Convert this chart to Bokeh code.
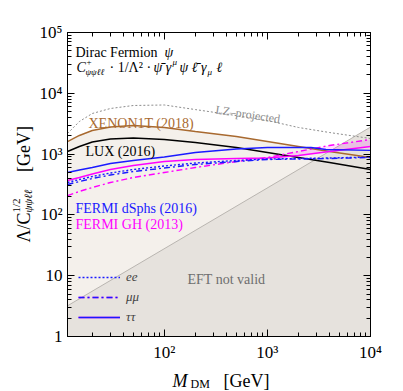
import math
from bokeh.plotting import figure
from bokeh.models import (Label, Legend, LegendItem, LogAxis, FixedTicker,
                          CustomJSTickFormatter)
from bokeh.embed import file_html
from bokeh.resources import INLINE

# ---------------- data ----------------
m_dm = [11.5, 15, 20, 30, 50, 100, 200, 500, 1000, 2000, 4000, 10000]
lz_projected = [2183, 3436, 4655, 5623, 6300, 6425, 5400, 4300, 3570, 2740, 2265, 1805]
xenon1t = [1611, 2023, 2443, 2791, 2953, 2740, 2354, 1946, 1611, 1334, 1104, 879]
lux = [1104, 1334, 1581, 1771, 1841, 1738, 1552, 1284, 1062, 879, 728, 558]
gh_tautau = [368, 412, 471, 558, 649, 755, 815, 847, 863, 948, 1104, 1334]
gh_mumu = [208, 243, 282, 341, 412, 498, 602, 755, 879, 1104, 1384, 1738]
dsph_mumu = [316, 354, 397, 453, 517, 590, 674, 755, 815, 830, 847, 879]
dsph_ee = [341, 382, 428, 489, 558, 637, 714, 785, 830, 847, 863, 896]
m_dsph_tt = [11.5, 15, 20, 30, 50, 100, 200, 500, 1000, 2000, 2650, 3700, 10000]
dsph_tautau = [498, 547, 602, 700, 785, 896, 1062, 1213, 1284, 1284, 1284, 1190, 1150]
eft_m = [11.5, 10000]
eft_lambda = [3.2, 2780]
floor_lambda = 1

x_major = [100, 1000, 10000]
y_major = [1, 10, 100, 1000, 10000, 100000]

XMIN, XMAX, YMIN, YMAX = 11.5, 1e4, 1, 1e5

# ---------------- layout (canvas px) ----------------
FL, FT, FW, FH = 67, 32, 303, 304
W, H = 403, 391

XL = math.log10(XMIN)
PX_DEC_X = FW / (math.log10(XMAX) - XL)
PX_DEC_Y = FH / 5.0


def X(px):
    return 10 ** (XL + (px - FL) / PX_DEC_X)


def Y(py):
    return 10 ** ((FT + FH - py) / PX_DEC_Y)


SERIF = "Liberation Serif"
BLUE = "#1a1aff"
MAGENTA = "#ff00ff"
BROWN = "#a8692f"

p = figure(x_axis_type="log", y_axis_type="log",
           x_range=(XMIN, XMAX), y_range=(YMIN, YMAX),
           width=W, height=H, output_backend="svg", toolbar_location=None,
           min_border_left=FL, min_border_right=W - FL - FW, min_border_top=FT,
           min_border_bottom=H - FT - FH)
p.grid.visible = False
p.outline_line_color = "black"
p.outline_line_width = 1
p.background_fill_color = "white"

# fills
p.varea(x=m_dm, y1=[floor_lambda] * len(m_dm), y2=xenon1t, fill_color="#f4f0eb")
p.varea(x=eft_m, y1=[floor_lambda] * len(eft_m), y2=eft_lambda, fill_color="#e6e2dd")
p.line(eft_m, eft_lambda, line_color="#b9b5b0", line_width=1)

i0 = m_dm.index(1000)
p.varea(x=m_dm[i0:], y1=gh_tautau[i0:], y2=gh_mumu[i0:], fill_color=MAGENTA, fill_alpha=0.15)

# curves
p.line(m_dm, lz_projected, line_color="#8c8c8c", line_width=1, line_dash="2 2")
p.line(m_dm, xenon1t, line_color=BROWN, line_width=1.4)
p.line(m_dm, lux, line_color="black", line_width=1.4)
r_gh_mm = p.line(m_dm, gh_mumu, line_color=MAGENTA, line_width=1.4, line_dash="6 3 2 3")
r_gh_tt = p.line(m_dm, gh_tautau, line_color=MAGENTA, line_width=1.4)
r_ds_ee = p.line(m_dm, dsph_ee, line_color=BLUE, line_width=1.4, line_dash="2 2")
r_ds_mm = p.line(m_dm, dsph_mumu, line_color=BLUE, line_width=1.4, line_dash="6 3 2 3")
r_ds_tt = p.line(m_dsph_tt, dsph_tautau, line_color=BLUE, line_width=1.4)

# ---------------- axes ----------------
def minors(lo_dec, hi_dec, lo, hi):
    out = []
    for d in range(lo_dec, hi_dec + 1):
        for k in range(2, 10):
            v = k * 10 ** d
            if lo <= v <= hi:
                out.append(v)
    return out


fmt = CustomJSTickFormatter(code="""
const sup = {'0':'\u2070','1':'\u00b9','2':'\u00b2','3':'\u00b3','4':'\u2074','5':'\u2075'};
const e = Math.round(Math.log10(tick));
if (e == 0) return '1';
if (e == 1) return '10';
return '10' + String(e).split('').map(c => sup[c]).join('');
""")
blank = CustomJSTickFormatter(code="return '';")


def style_axis(ax, labels=True):
    ax.major_tick_in = 7
    ax.major_tick_out = 0
    ax.minor_tick_in = 4
    ax.minor_tick_out = 0
    ax.major_tick_line_color = "black"
    ax.minor_tick_line_color = "black"
    ax.axis_line_color = "black"
    ax.major_label_text_font = SERIF
    ax.major_label_text_color = "black"
    if labels:
        ax.major_label_text_font_size = "17px"
        ax.major_label_standoff = 6
        ax.formatter = fmt
    else:
        ax.major_label_text_font_size = "1px"
        ax.major_label_standoff = 0
        ax.formatter = blank


p.xaxis.ticker = FixedTicker(ticks=x_major, minor_ticks=minors(1, 3, XMIN, XMAX))
p.yaxis.ticker = FixedTicker(ticks=y_major, minor_ticks=minors(0, 4, YMIN, YMAX))
style_axis(p.xaxis[0])
style_axis(p.yaxis[0])
p.yaxis[0].major_label_standoff = 5

top = LogAxis(ticker=FixedTicker(ticks=x_major, minor_ticks=minors(1, 3, XMIN, XMAX)))
style_axis(top, labels=False)
p.add_layout(top, "above")
right = LogAxis(ticker=FixedTicker(ticks=y_major, minor_ticks=minors(0, 4, YMIN, YMAX)))
style_axis(right, labels=False)
p.add_layout(right, "right")


# ---------------- texts ----------------
def lab(px, py, text, size, color="black", style="normal", angle=0.0, font=SERIF,
        place="center"):
    p.add_layout(Label(x=X(px), y=Y(py), text=text, text_font=font,
                       text_font_size=f"{size}px", text_color=color,
                       text_font_style=style, text_align="left",
                       text_baseline="alphabetic", angle=angle), place)


lab(75, 52, "Dirac Fermion", 14)
lab(164, 52, "ψ", 14, style="italic")
# formula line
lab(76, 67, "C", 14, style="italic")
lab(86, 61, "+", 9)
lab(85, 71, "ψψℓℓ", 9, style="italic")
lab(109, 67, "· 1/Λ² ·", 14)
lab(153, 67, "ψ̄ γ", 14, style="italic")
lab(172, 61, "μ", 9, style="italic")
lab(179, 67, "ψ ℓ̄ γ", 14, style="italic")
lab(207, 71, "μ", 9, style="italic")
lab(216, 67, "ℓ", 14, style="italic")

lab(215, 109, "LZ–projected", 12, color="#8c8c8c", angle=-0.15)
lab(88, 123, "XENON1T (2018)", 14, color=BROWN)
lab(85, 151, "LUX (2016)", 14)
lab(75, 208, "FERMI dSphs (2016)", 14, color=BLUE)
lab(75, 224, "FERMI GH (2013)", 14, color=MAGENTA)
lab(187, 279, "EFT not valid", 14, color="#6e6e6e")

# Axis titles: labels outside the frame have to live in a side panel (texts in the
# centre are clipped to the frame); positions are still given in data units.
NB = "\u00a0"
lab(172, 380, "M", 18, style="italic", place="above")
lab(190, 383, "DM", 12, place="right")
lab(223, 380, "[GeV]", 18, place="below")
R = math.pi / 2
lab(23, 242, "Λ/C" + NB * 9 + "[GeV]", 18, angle=R, place="left")
lab(15, 212, "1/2", 11, angle=R, place="left")
lab(27, 212, "ψψℓℓ", 11, style="italic", angle=R, place="right")

# legend
legend = Legend(items=[
    LegendItem(label="ee", renderers=[r_ds_ee]),
    LegendItem(label="μμ", renderers=[r_gh_mm, r_ds_mm]),
    LegendItem(label="ττ", renderers=[r_gh_tt, r_ds_tt]),
], location=(11, 11))
legend.label_text_font = SERIF
legend.label_text_font_style = "italic"
legend.label_text_font_size = "13px"
legend.glyph_width = 42
legend.glyph_height = 14
legend.spacing = 4
legend.padding = 0
legend.margin = 0
legend.label_standoff = 6
legend.background_fill_alpha = 0
legend.border_line_alpha = 0
p.add_layout(legend)

open("out.html", "w").write(file_html(p, INLINE))
